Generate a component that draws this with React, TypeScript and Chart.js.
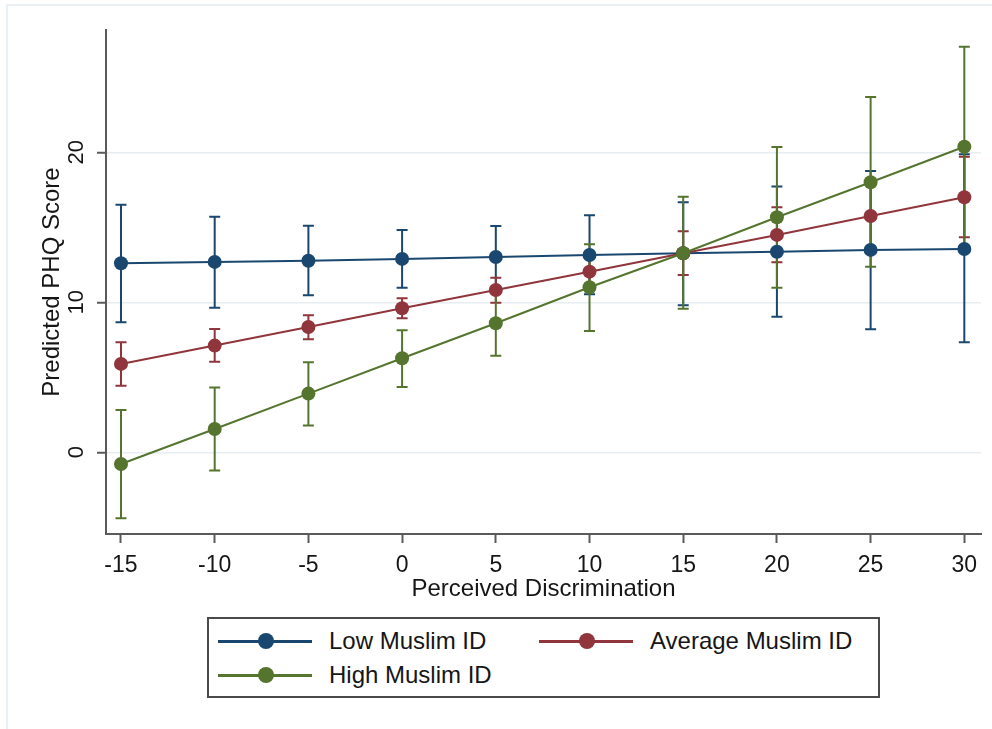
import React, { useEffect, useRef } from "react";
import { Chart, registerables } from "chart.js";

Chart.register(...registerables);

// ---- data ----
const xValues = [-15, -10, -5, 0, 5, 10, 15, 20, 25, 30];
const xTicks = [-15, -10, -5, 0, 5, 10, 15, 20, 25, 30];
const yTicks = [0, 10, 20];

const lowMean = [12.6, 12.69, 12.77, 12.89, 13.02, 13.15, 13.27, 13.37, 13.49, 13.55];
const lowLower = [8.67, 9.64, 10.47, 10.97, 10.95, 10.53, 9.8, 9.04, 8.2, 7.33];
const lowUpper = [16.5, 15.7, 15.1, 14.82, 15.09, 15.8, 16.67, 17.71, 18.75, 19.87];

const avgMean = [5.89, 7.11, 8.35, 9.6, 10.82, 12.04, 13.27, 14.49, 15.75, 17.0];
const avgLower = [4.44, 6.04, 7.53, 8.93, 9.97, 11.0, 11.82, 12.67, 13.55, 14.33];
const avgUpper = [7.33, 8.22, 9.13, 10.27, 11.64, 13.05, 14.73, 16.33, 17.95, 19.7];

const highMean = [-0.78, 1.55, 3.91, 6.27, 8.6, 11.0, 13.27, 15.67, 18.0, 20.37];
const highLower = [-4.4, -1.22, 1.78, 4.35, 6.44, 8.09, 9.57, 10.97, 12.37, 13.7];
const highUpper = [2.82, 4.31, 6.0, 8.13, 10.76, 13.87, 17.04, 20.35, 23.69, 27.04];

const seriesLabels = ["Low Muslim ID", "Average Muslim ID", "High Muslim ID"];
const seriesColors = ["#1a476f", "#90353b", "#55752f"];

const xTitle = "Perceived Discrimination";
const yTitle = "Predicted PHQ Score";

const series = [
  { label: seriesLabels[0], color: seriesColors[0], mean: lowMean, lo: lowLower, hi: lowUpper },
  { label: seriesLabels[1], color: seriesColors[1], mean: avgMean, lo: avgLower, hi: avgUpper },
  { label: seriesLabels[2], color: seriesColors[2], mean: highMean, lo: highLower, hi: highUpper },
];

const FONT = "'Liberation Sans', Arial, sans-serif";
const TEXT = "#161616";

const errorBarPlugin = {
  id: "errorBars",
  beforeDatasetsDraw(chart: any) {
    const { ctx, scales } = chart;
    const xs = scales.x;
    const ys = scales.y;
    ctx.save();
    ctx.lineWidth = 2;
    ctx.lineCap = "butt";
    series.forEach((s) => {
      ctx.strokeStyle = s.color;
      xValues.forEach((xv, i) => {
        const px = xs.getPixelForValue(xv);
        const pLo = ys.getPixelForValue(s.lo[i]);
        const pHi = ys.getPixelForValue(s.hi[i]);
        ctx.beginPath();
        ctx.moveTo(px, pLo);
        ctx.lineTo(px, pHi);
        ctx.moveTo(px - 5.5, pLo);
        ctx.lineTo(px + 5.5, pLo);
        ctx.moveTo(px - 5.5, pHi);
        ctx.lineTo(px + 5.5, pHi);
        ctx.stroke();
      });
    });
    ctx.restore();
  },
};

export default function App() {
  const ref = useRef<HTMLCanvasElement>(null);

  useEffect(() => {
    const canvas = ref.current!;
    const chart = new Chart(canvas, {
      type: "line",
      data: {
        datasets: series.map((s, k) => ({
          label: s.label,
          data: xValues.map((x, i) => ({ x, y: s.mean[i] })),
          borderColor: s.color,
          backgroundColor: s.color,
          pointBackgroundColor: s.color,
          pointBorderColor: s.color,
          pointRadius: 7,
          pointBorderWidth: 0,
          borderWidth: 2,
          tension: 0,
          order: 2 - k,
        })),
      },
      options: {
        responsive: false,
        animation: false,
        devicePixelRatio: 1,
        layout: { padding: { left: 0, top: 30, right: 11, bottom: 125 } },
        plugins: {
          legend: { display: false },
          tooltip: { enabled: false },
        },
        scales: {
          x: {
            type: "linear",
            min: -15.8,
            max: 30.89,
            afterBuildTicks: (sc: any) => {
              sc.ticks = xTicks.map((v) => ({ value: v }));
            },
            afterFit: (sc: any) => {
              sc.height = 70;
              sc.paddingLeft = 0;
              sc.paddingRight = 0;
            },
            border: { display: true, color: "#5a5a5a", width: 2 },
            grid: {
              display: true,
              drawOnChartArea: false,
              drawTicks: true,
              tickLength: 9,
              tickColor: "#5a5a5a",
              tickWidth: 2,
            },
            ticks: {
              color: TEXT,
              font: { family: FONT, size: 23 },
              padding: 9,
              maxRotation: 0,
              minRotation: 0,
              callback: (v: any) => String(v),
            },
            title: {
              display: true,
              text: xTitle,
              color: TEXT,
              font: { family: FONT, size: 24 },
              padding: { top: 0, bottom: 0 },
            },
          },
          y: {
            type: "linear",
            min: -5.45,
            max: 28.15,
            afterBuildTicks: (sc: any) => {
              sc.ticks = yTicks.map((v) => ({ value: v }));
            },
            afterFit: (sc: any) => {
              sc.width = 106;
              sc.paddingTop = 0;
              sc.paddingBottom = 0;
            },
            border: { display: true, color: "#5a5a5a", width: 2 },
            grid: {
              display: true,
              drawOnChartArea: true,
              drawTicks: true,
              color: "#e6eef1",
              lineWidth: 1.5,
              tickLength: 9,
              tickColor: "#5a5a5a",
              tickWidth: 2,
            },
            ticks: {
              color: TEXT,
              font: { family: FONT, size: 22 },
              padding: 8,
              minRotation: 90,
              maxRotation: 90,
              crossAlign: "center",
              callback: (v: any) => String(v),
            },
            title: {
              display: true,
              text: yTitle,
              color: TEXT,
              font: { family: FONT, size: 24 },
              padding: { top: 38, bottom: 0 },
            },
          },
        },
      },
      plugins: [errorBarPlugin],
    } as any);
    return () => chart.destroy();
  }, []);

  const legendItems = [
    { s: series[0], left: 218, top: 641 },
    { s: series[1], left: 539, top: 641 },
    { s: series[2], left: 218, top: 675 },
  ];

  return (
    <div
      style={{
        position: "fixed",
        left: 0,
        top: 0,
        width: 992,
        height: 729,
        background: "#ffffff",
        overflow: "hidden",
      }}
    >
      <div
        style={{
          position: "absolute",
          left: 6,
          top: 4,
          width: 1000,
          height: 800,
          borderTop: "2px solid #eaf0f3",
          borderLeft: "2px solid #eaf0f3",
        }}
      />
      <canvas
        ref={ref}
        width={992}
        height={729}
        style={{ position: "absolute", left: 0, top: 0, width: 992, height: 729 }}
      />
      <div
        style={{
          position: "absolute",
          left: 207,
          top: 617,
          width: 673,
          height: 81,
          boxSizing: "border-box",
          border: "2px solid #4a4a4a",
          background: "#fff",
        }}
      />
      {legendItems.map(({ s, left, top }) => (
        <React.Fragment key={s.label}>
          <div
            style={{
              position: "absolute",
              left,
              top: top - 1,
              width: 94,
              height: 2.5,
              background: s.color,
            }}
          />
          <div
            style={{
              position: "absolute",
              left: left + 48 - 8,
              top: top - 8,
              width: 16,
              height: 16,
              borderRadius: "50%",
              background: s.color,
            }}
          />
          <div
            style={{
              position: "absolute",
              left: left + 111,
              top: top - 15,
              height: 30,
              lineHeight: "30px",
              fontFamily: FONT,
              fontSize: 24,
              color: TEXT,
              whiteSpace: "nowrap",
            }}
          >
            {s.label}
          </div>
        </React.Fragment>
      ))}
    </div>
  );
}
